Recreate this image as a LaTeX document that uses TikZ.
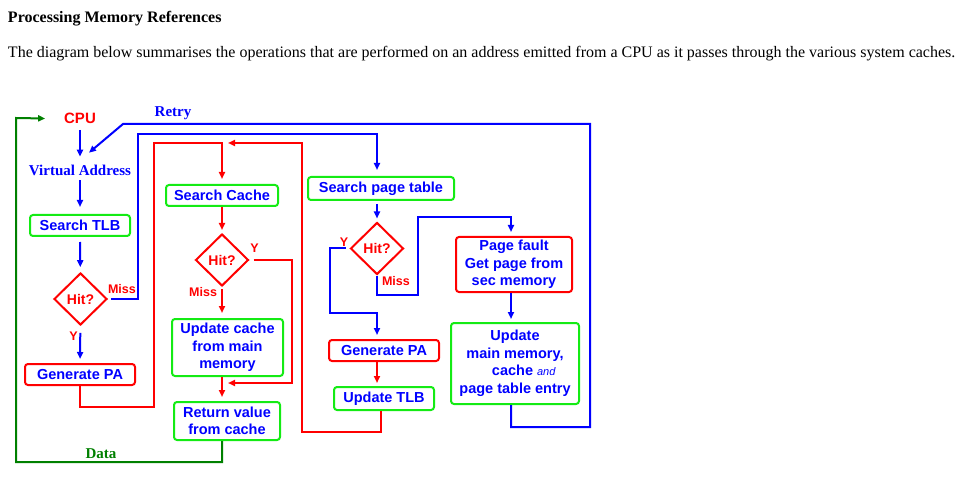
\documentclass[tikz,border=0pt]{standalone}
\usepackage{fontspec}
\setmainfont{Liberation Serif}
\setsansfont{Liberation Sans}
\usepackage{xcolor}
\usepackage{tikz}
\usetikzlibrary{positioning,arrows.meta,shapes.geometric}

\definecolor{blu}{RGB}{0,0,255}
\definecolor{boxgreen}{RGB}{20,235,20}
\definecolor{dgreen}{RGB}{0,128,0}

\begin{document}
\begin{tikzpicture}[
  x=1pt, y=-1pt, line width=2pt,
  boxtxt/.style={font=\sffamily\bfseries\fontsize{14.5}{17.5}\selectfont,
                 text=blu, align=center, inner sep=0pt},
  gbox/.style={boxtxt, draw=boxgreen, rounded corners=3pt},
  rbox/.style={boxtxt, draw=red, rounded corners=3pt},
  hitbox/.style={diamond, draw=red, aspect=1, minimum width=53pt,
                 minimum height=52pt, inner sep=0pt, text=red,
                 font=\sffamily\bfseries\fontsize{14}{14}\selectfont},
  lbl/.style={text=red, inner sep=0pt,
              font=\sffamily\bfseries\fontsize{12.5}{12.5}\selectfont},
  serifbold/.style={inner sep=1pt, font=\rmfamily\bfseries\fontsize{15}{15}\selectfont},
  >={Triangle[length=7pt,width=6pt]}
]
\useasboundingbox (0,0) rectangle (963,486);

% heading
\node[anchor=base west, inner sep=0pt, font=\rmfamily\bfseries\fontsize{16}{16}\selectfont]
  (title) at (7,23) {Processing Memory References};
\node[anchor=base west, inner sep=0pt, font=\rmfamily\fontsize{16}{16}\selectfont]
  (intro) at (7,58) {The diagram below summarises the operations that are performed on an address emitted from a CPU as it passes through the various system caches.};

% TLB column
\node[inner sep=1pt, text=red, font=\sffamily\bfseries\fontsize{15}{15}\selectfont] (cpu) at (80,118.5) {CPU};
\node[serifbold, text=blu] (va) at (80,170) {Virtual Address};
\node[gbox, minimum width=100pt, minimum height=21pt] (tlb) at (80,225.5) {Search TLB};
\node[hitbox] (hit1) at (80.5,299) {Hit?};
\node[rbox, minimum width=110pt, minimum height=21pt] (gpa1) at (80,374.5) {Generate PA};

% cache column
\coordinate (topjoin) at (222,143);
\coordinate (midjoin) at (222,383);
\node[gbox, minimum width=112pt, minimum height=21pt] (scache) at (222,195.5) {Search Cache};
\node[hitbox] (hit2) at (222,260) {Hit?};
\node[gbox, minimum width=111pt, minimum height=57pt] (ucache) at (227.5,347.5) {Update cache\\from main\\memory};
\node[gbox, minimum width=106pt, minimum height=38pt] (retval) at (227,421) {Return value\\from cache};

% page table column
\node[gbox, minimum width=146pt, minimum height=23pt] (spt) at (381,188.5) {Search page table};
\node[hitbox] (hit3) at (377,248.5) {Hit?};
\node[rbox, minimum width=110pt, minimum height=21pt] (gpa2) at (384,350.5) {Generate PA};
\node[gbox, minimum width=100pt, minimum height=23pt] (utlb) at (384,398.5) {Update TLB};

% page fault column
\node[rbox, minimum width=116pt, minimum height=55pt] (pfault) at (514,264.5) {Page fault\\Get page from\\sec memory};
\node[gbox, minimum width=128pt, minimum height=81pt] (umm) at (515,363.5)
  {Update\\main memory,\\\hspace*{1.2em}cache {\mdseries\itshape\fontsize{11}{11}\selectfont and}\\page table entry};

% labels
\node[lbl, anchor=west] (miss1) at (107,289.5) {Miss};
\node[lbl] (y1) at (73.5,336) {Y};
\node[lbl] (y2) at (254.5,248) {Y};
\node[lbl, anchor=east] (miss2) at (218,292) {Miss};
\node[lbl] (y3) at (344,242) {Y};
\node[lbl, anchor=west] (miss3) at (381,281) {Miss};
\node[serifbold, text=blu, anchor=base] (retry) at (173,117) {Retry};
\node[serifbold, text=dgreen, anchor=base] (data) at (101,458) {Data};

% TLB edges
\draw[blu,->,shorten <=4pt,shorten >=6pt] (cpu) -- (va);
\draw[blu,->,shorten <=3pt,shorten >=7pt] (va) -- (tlb);
\draw[blu,->,shorten <=5pt,shorten >=5pt] (tlb) -- (hit1);
\draw[blu,->,shorten <=7pt,shorten >=4pt] (hit1) -- (gpa1);
\draw[blu,->,shorten >=6pt] ([xshift=3pt]hit1.east) -| (138,134) -| (spt.north -| hit3);
\draw[blu,->] ([xshift=-4pt]umm.south) -- ++(0,22) -| (590,124) -- (123,124)
  -- ([shift={(9,-10)}]va.north);

% cache edges
\draw[red,->,shorten >=5pt] (gpa1.south) |- (154,407) |- (topjoin) -- (scache.north);
\draw[red,->] ([xshift=-3pt]utlb.south) |- (302,432) |- ([xshift=6pt]topjoin);
\draw[red,->,shorten >=3pt] (scache) -- (hit2);
\draw[red,->] ([xshift=4pt]hit2.east) -| (292,383) -- ([xshift=6pt]midjoin);
\draw[red,->,shorten <=2pt,shorten >=5pt] (hit2) -- (ucache.north -| hit2);
\draw[red,->,shorten >=4pt] (ucache.south -| hit2) -- (retval.north -| hit2);
\draw[dgreen,->] (retval.south -| hit2) -- ++(0,21) -| (16,118) -- ([xshift=-17pt]cpu.west);

% page table edges
\draw[blu,->,shorten <=3pt,shorten >=3pt] (spt.south -| hit3) -- (hit3);
\draw[blu,->,shorten >=4pt] ([xshift=-4pt]hit3.west) -| (330,313) -| (gpa2.north -| hit3);
\draw[blu,->,shorten >=4pt] (hit3.south) |- (418,295) |- (511,217) -- ([xshift=-3pt]pfault.north);
\draw[red,->,shorten >=3pt] (gpa2.south -| hit3) -- (utlb.north -| hit3);
\draw[blu,->,shorten >=3pt] ([xshift=-3pt]pfault.south) -- ([xshift=-3pt]pfault.south |- umm.north);
\end{tikzpicture}
\end{document}
